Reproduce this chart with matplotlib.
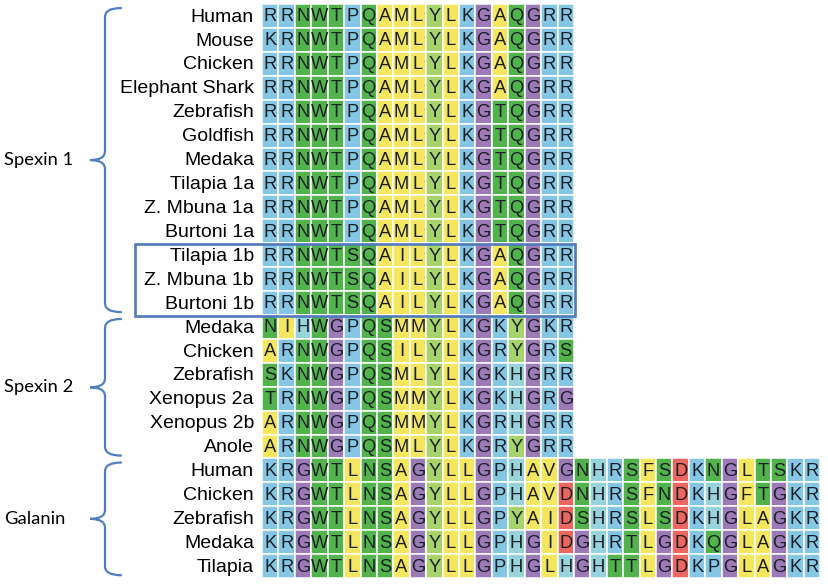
import matplotlib
matplotlib.use("Agg")
import matplotlib.pyplot as plt
from matplotlib.patches import Rectangle, PathPatch
from matplotlib.path import Path

# ---------------- data ----------------
species = ["Human", "Mouse", "Chicken", "Elephant Shark", "Zebrafish", "Goldfish",
           "Medaka", "Tilapia 1a", "Z. Mbuna 1a", "Burtoni 1a", "Tilapia 1b",
           "Z. Mbuna 1b", "Burtoni 1b",
           "Medaka", "Chicken", "Zebrafish", "Xenopus 2a", "Xenopus 2b", "Anole",
           "Human", "Chicken", "Zebrafish", "Medaka", "Tilapia"]
sequences = [
    "RRNWTPQAMLYLKGAQGRR",
    "KRNWTPQAMLYLKGAQGRR",
    "RRNWTPQAMLYLKGAQGRR",
    "RRNWTPQAMLYLKGAQGRR",
    "RRNWTPQAMLYLKGTQGRR",
    "RRNWTPQAMLYLKGTQGRR",
    "RRNWTPQAMLYLKGTQGRR",
    "RRNWTPQAMLYLKGTQGRR",
    "RRNWTPQAMLYLKGTQGRR",
    "RRNWTPQAMLYLKGTQGRR",
    "RRNWTSQAILYLKGAQGRR",
    "RRNWTSQAILYLKGAQGRR",
    "RRNWTSQAILYLKGAQGRR",
    "NIHWGPQSMMYLKGKYGKR",
    "ARNWGPQSILYLKGRYGRS",
    "SKNWGPQSMLYLKGKHGRR",
    "TRNWGPQSMMYLKGKHGRG",
    "ARNWGPQSMMYLKGRHGRR",
    "ARNWGPQSMLYLKGRYGRR",
    "KRGWTLNSAGYLLGPHAVGNHRSFSDKNGLTSKR",
    "KRGWTLNSAGYLLGPHAVDNHRSFNDKHGFTGKR",
    "KRGWTLNSAGYLLGPYAIDSHRSLSDKHGLAGKR",
    "KRGWTLNSAGYLLGPHGIDGHRTLGDKQGLAGKR",
    "KRGWTLNSAGYLLGPHGLHGHTTLGDKPGLAGKR",
]
groups = ["Spexin 1", "Spexin 2", "Galanin"]
group_rows = [(0, 12), (13, 18), (19, 23)]   # first/last row index of each group
boxed_rows = (10, 12)                          # Tilapia 1b .. Burtoni 1b

# ---------------- style ----------------
BLUE = "#84c6e3"
TEAL = "#97d3da"
GREEN = "#52b24b"
LGREEN = "#a6d36b"
YELLOW = "#f4e65e"
PURPLE = "#9b7ab7"
RED = "#ec6660"
residue_color = {}
for r in "RKP":
    residue_color[r] = BLUE
residue_color["H"] = TEAL
for r in "NWTQS":
    residue_color[r] = GREEN
residue_color["Y"] = LGREEN
for r in "AMLIVF":
    residue_color[r] = YELLOW
residue_color["G"] = PURPLE
residue_color["D"] = RED

BRACE = "#4f7fc1"

W, H = 829, 584
CW, CH = 16.42, 23.92        # cell size in pixels
X0, Y0 = 262, 4              # top-left of grid in pixels
ncols = max(len(s) for s in sequences)
nrows = len(sequences)

fig = plt.figure(figsize=(W / 100, H / 100), dpi=100)
ax = fig.add_axes([X0 / W, (H - Y0 - nrows * CH) / H, ncols * CW / W, nrows * CH / H])
ax.set_xlim(0, ncols)
ax.set_ylim(nrows, 0)
ax.axis("off")

def px_x(p):
    return (p - X0) / CW

def px_y(p):
    return (p - Y0) / CH

# cells
for i, seq in enumerate(sequences):
    for j, ch in enumerate(seq):
        ax.add_patch(Rectangle((j, i), 1, 1, facecolor=residue_color.get(ch, "white"),
                               edgecolor="white", lw=1.1))
        ax.text(j + 0.5, i + 0.54, ch, ha="center", va="center", fontsize=13.2,
                family="Liberation Sans", color="#1b1f26")
    ax.text(px_x(254), i + 0.55, species[i], ha="right", va="center", fontsize=14.0,
            family="Liberation Sans", color="#000000", clip_on=False)

# box around the 1b rows
r0, r1 = boxed_rows
ax.add_patch(Rectangle((px_x(135.5), r0 + 0.02), px_x(575) - px_x(135.5), r1 + 1 - r0 + 0.03,
                       facecolor="none", edgecolor="#4f7bbd", lw=1.9, clip_on=False))

# braces
def brace(top, bottom, label):
    xl, xe, xt = px_x(105), px_x(121), px_x(90)
    ry = 9 / CH
    mid = (top + bottom) / 2
    verts = [(xe, top), (xl, top), (xl, top + ry),
             (xl, mid - ry), (xl, mid), (xt, mid),
             (xl, mid), (xl, mid + ry),
             (xl, bottom - ry), (xl, bottom), (xe, bottom)]
    codes = [Path.MOVETO, Path.CURVE3, Path.CURVE3,
             Path.LINETO, Path.CURVE3, Path.CURVE3,
             Path.CURVE3, Path.CURVE3,
             Path.LINETO, Path.CURVE3, Path.CURVE3]
    ax.add_patch(PathPatch(Path(verts, codes), facecolor="none", edgecolor=BRACE,
                           lw=1.6, clip_on=False, capstyle="round"))
    ax.text(px_x(4), mid, label, ha="left", va="center", fontsize=13.2,
            family="Lato", color="#000000", clip_on=False)

for (a, b), g in zip(group_rows, groups):
    brace(a + 0.17, b + 1 - 0.12, g)

fig.savefig("out.png", dpi=100)
